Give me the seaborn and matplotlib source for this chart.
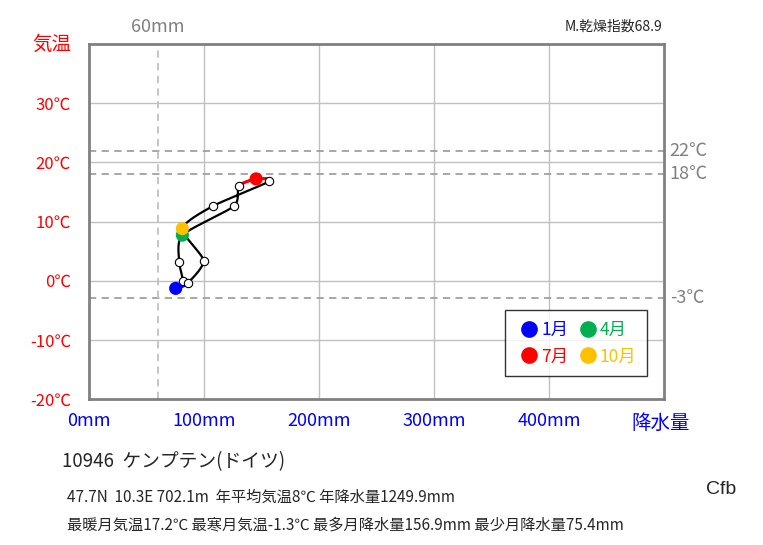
import numpy as np
import pandas as pd
import matplotlib
matplotlib.use("Agg")
import matplotlib.pyplot as plt
import seaborn as sns
from matplotlib.lines import Line2D

# monthly climate values
months = ["1月", "2月", "3月", "4月", "5月", "6月", "7月", "8月", "9月", "10月", "11月", "12月"]
temp = [-1.3, 0.0, 3.1, 7.7, 12.6, 16.0, 17.2, 16.8, 12.6, 8.8, 3.4, -0.4]
precip = [75.4, 81.5, 78.5, 81.2, 126.0, 130.3, 145.3, 156.9, 107.7, 81.2, 99.6, 85.9]

key_months = ["1月", "4月", "7月", "10月"]
key_colors = ["#0000FF", "#00B050", "#FF0000", "#FFC000"]

x_ticks = [0, 100, 200, 300, 400]
x_ticklabels = ["0mm", "100mm", "200mm", "300mm", "400mm"]
y_ticks = [-20, -10, 0, 10, 20, 30]
y_ticklabels = ["-20℃", "-10℃", "0℃", "10℃", "20℃", "30℃"]
ref_temps = [22, 18, -3]
ref_labels = ["22℃", "18℃", "-3℃"]
dry_line = 60

df = pd.DataFrame({"month": months, "temp": temp, "precip": precip})

sns.set_style("white")
plt.rcParams["font.family"] = ["Noto Sans CJK JP", "DejaVu Sans"]


def smooth_loop(xs, ys, n=24, tension=0.35, sx=1.15, sy=5.9):
    # closed cardinal curve, computed in screen-like units
    p = np.column_stack([np.array(xs) * sx, np.array(ys) * sy])
    m = len(p)
    segs = []
    t = np.linspace(0, 1, n)[:, None]
    h00 = 2 * t ** 3 - 3 * t ** 2 + 1
    h10 = t ** 3 - 2 * t ** 2 + t
    h01 = -2 * t ** 3 + 3 * t ** 2
    h11 = t ** 3 - t ** 2
    for i in range(m):
        p0, p1, p2, p3 = p[i - 1], p[i], p[(i + 1) % m], p[(i + 2) % m]
        m1 = tension * (p2 - p0)
        m2 = tension * (p3 - p1)
        c = h00 * p1 + h10 * m1 + h01 * p2 + h11 * m2
        segs.append(np.column_stack([c[:, 0] / sx, c[:, 1] / sy]))
    return segs


segs = smooth_loop(precip, temp)

fig = plt.figure(figsize=(7.63, 5.45), dpi=100)
ax = fig.add_axes([89 / 763, 146 / 545, 575 / 763, 355 / 545])

ax.set_xlim(0, 500)
ax.set_ylim(-20, 40)

# grid
for xv in x_ticks[1:]:
    ax.axvline(xv, color="#c0c0c0", lw=1, zorder=0)
for yv in y_ticks[1:]:
    ax.axhline(yv, color="#c0c0c0", lw=1, zorder=0)
for yv in ref_temps:
    ax.axhline(yv, color="#a0a0a0", lw=1.3, ls=(0, (4, 3)), zorder=1)
ax.axvline(dry_line, color="#c0c0c0", lw=1.3, ls=(0, (4, 3)), zorder=1)

# the loop
loop = pd.DataFrame(np.vstack(segs), columns=["precip", "temp"])
sns.lineplot(data=loop, x="precip", y="temp", sort=False, estimator=None,
             color="black", lw=1.6, ax=ax, zorder=3)
red = pd.DataFrame(np.vstack(segs[5:7]), columns=["precip", "temp"])
sns.lineplot(data=red, x="precip", y="temp", sort=False, estimator=None,
             color="#FF0000", lw=2.2, ax=ax, zorder=4)
blue = pd.DataFrame(np.vstack([segs[11], segs[0]]), columns=["precip", "temp"])
sns.lineplot(data=blue, x="precip", y="temp", sort=False, estimator=None,
             color="#0000FF", lw=2.2, ax=ax, zorder=4)

other = df[~df["month"].isin(key_months)]
sns.scatterplot(data=other, x="precip", y="temp", color="white", edgecolor="black",
                linewidth=0.8, s=36, ax=ax, zorder=5)
key = df[df["month"].isin(key_months)]
sns.scatterplot(data=key, x="precip", y="temp", hue="month", hue_order=key_months,
                palette=key_colors, s=90, linewidth=0, ax=ax, zorder=6, legend=False)

ax.set_xticks(x_ticks)
ax.set_xticklabels(x_ticklabels, color="#0000FF", fontsize=13)
ax.set_yticks(y_ticks)
ax.set_yticklabels(y_ticklabels, color="#FF0000", fontsize=12)
ax.tick_params(axis="x", length=0, pad=9)
ax.tick_params(axis="y", length=0, pad=13)
ax.set_xlabel("")
ax.set_ylabel("")
for s in ax.spines.values():
    s.set_color("#808080")
    s.set_linewidth(2)

ax.text(-0.03, 1.0, "気温", transform=ax.transAxes, color="#FF0000", fontsize=14,
        ha="right", va="center")
ax.text(0.995, -0.068, "降水量", transform=ax.transAxes, color="#0000FF", fontsize=14,
        ha="center", va="center")
ax.text(dry_line, 1.048, f"{dry_line}mm", transform=ax.get_xaxis_transform(),
        color="#808080", fontsize=13, ha="center", va="center")
for yv, lab in zip(ref_temps, ref_labels):
    ax.text(1.01, yv, lab, transform=ax.get_yaxis_transform(), color="#808080",
            fontsize=13, ha="left", va="center")

# legend filled column by column: 1月 7月 | 4月 10月
order = [0, 2, 1, 3]
handles = [Line2D([], [], marker="o", ls="", color=key_colors[i], markersize=11) for i in order]
labels = [key_months[i] for i in order]
leg = ax.legend(handles, labels, ncol=2, loc="lower right",
                bbox_to_anchor=(0.970, 0.065), borderaxespad=0, frameon=True,
                fancybox=False, edgecolor="black", fontsize=12.5, handletextpad=-0.1,
                columnspacing=0.3, borderpad=0.6, labelspacing=0.5, handlelength=1.6)
leg.get_frame().set_linewidth(1)
for txt, i in zip(leg.get_texts(), order):
    txt.set_color(key_colors[i])

fig.text(662 / 763, 1 - 27 / 545, "M.乾燥指数68.9", fontsize=10, ha="right", va="center")
fig.text(62 / 763, 1 - 462 / 545, "10946  ケンプテン(ドイツ)", fontsize=13.5, va="center")
fig.text(67 / 763, 1 - 497 / 545, "47.7N  10.3E 702.1m  年平均気温8℃ 年降水量1249.9mm",
         fontsize=11, va="center")
fig.text(67 / 763, 1 - 525 / 545,
         "最暖月気温17.2℃ 最寒月気温-1.3℃ 最多月降水量156.9mm 最少月降水量75.4mm",
         fontsize=11, va="center")
fig.text(721 / 763, 1 - 489 / 545, "Cfb", fontsize=14, ha="center", va="center",
         family="Liberation Sans")

fig.savefig("out.png", dpi=100)
